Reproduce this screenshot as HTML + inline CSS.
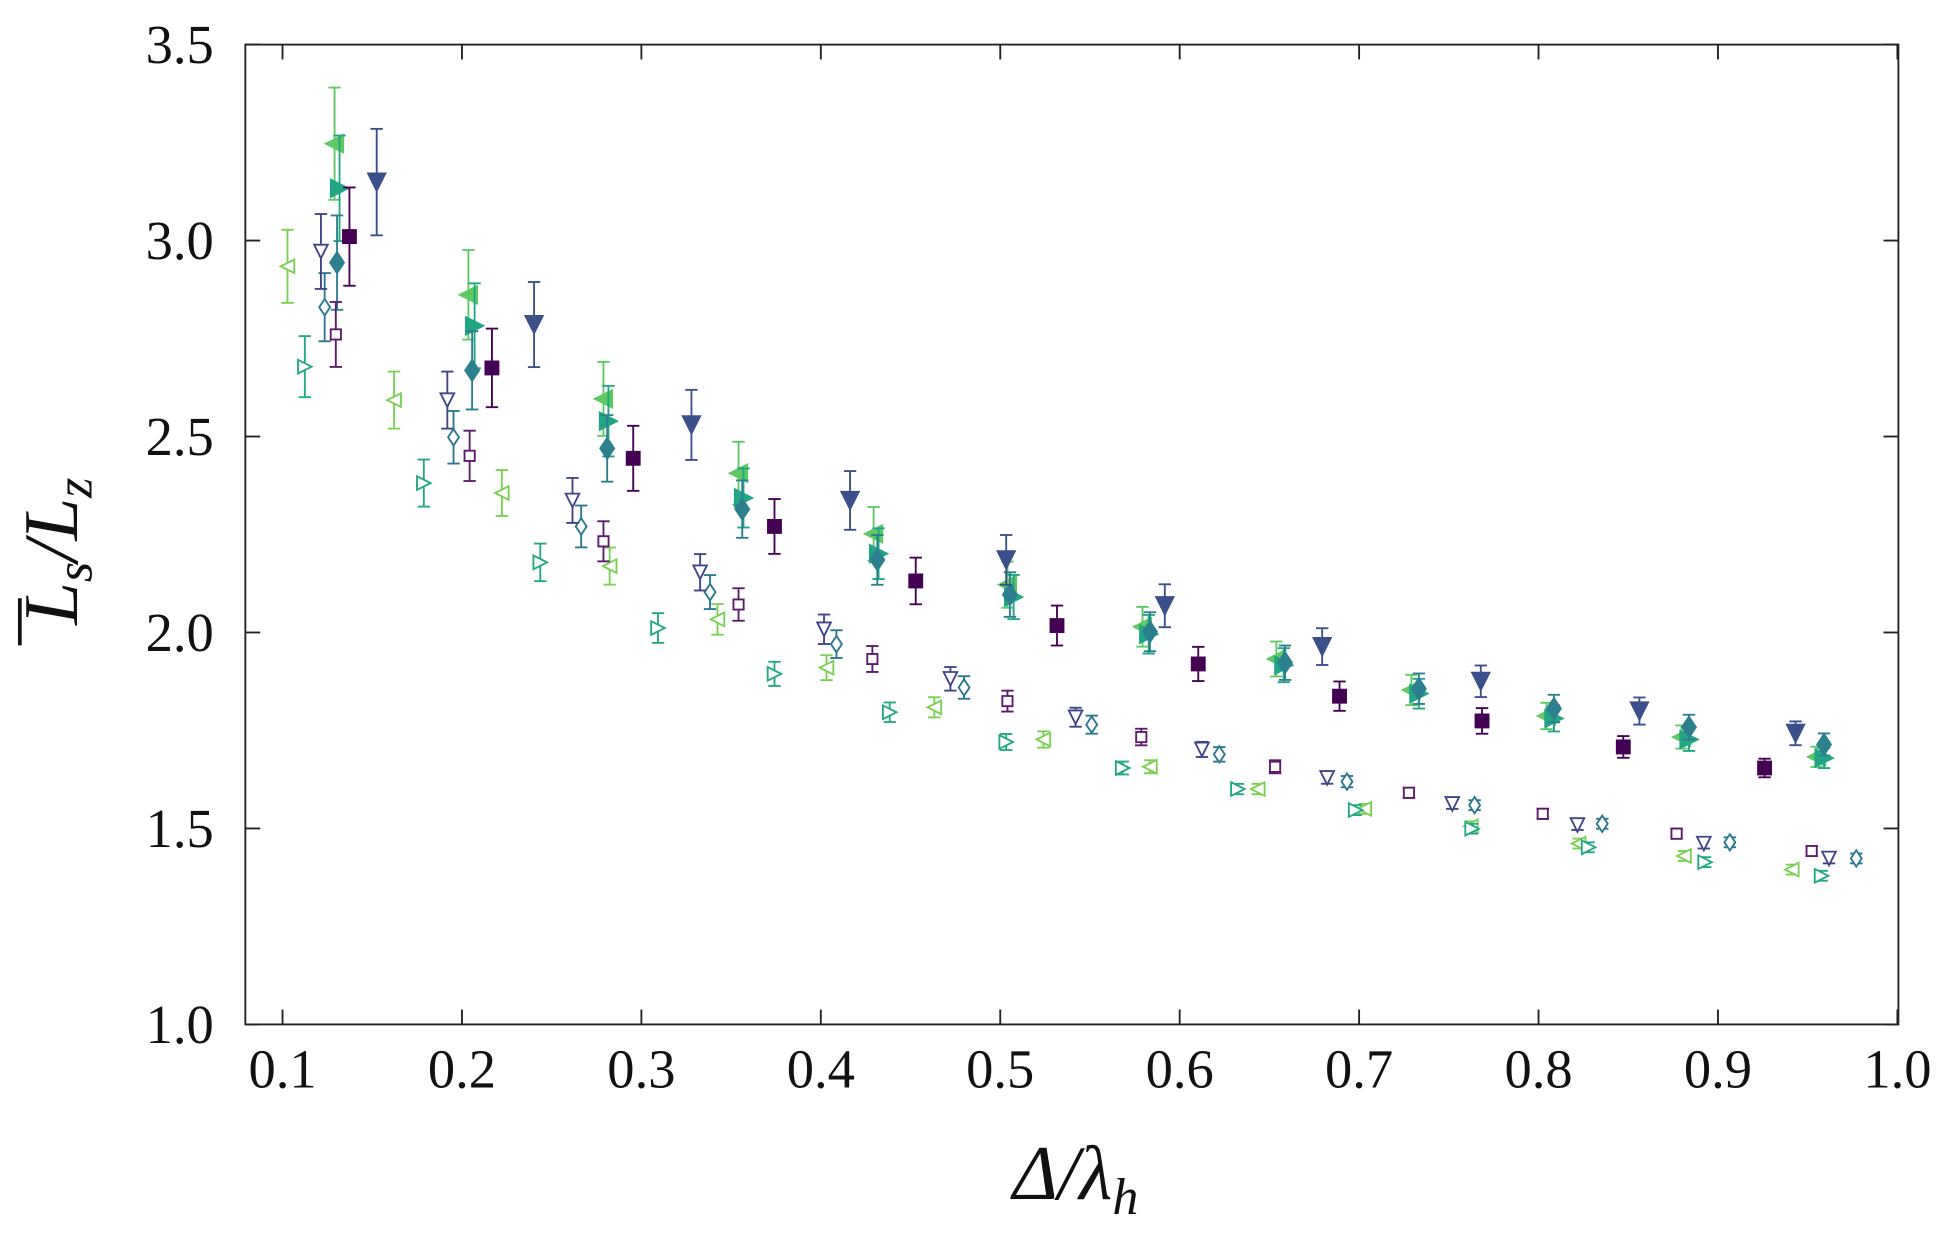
<!DOCTYPE html>
<html><head><meta charset="utf-8"><style>
html,body{margin:0;padding:0;background:#fff}
svg{display:block}
text{font-family:"Liberation Serif",serif;fill:#111}
</style></head><body>
<svg id="s" width="1943" height="1235" viewBox="0 0 1568 997" preserveAspectRatio="none" xmlns="http://www.w3.org/2000/svg">
<rect x="198" y="36" width="1334" height="791" fill="none" stroke="#222" stroke-width="1.5"/>
<g id="ticks" stroke="#222" stroke-width="1.5"></g>
<g id="lab" font-size="44" text-anchor="middle"></g>
<g id="data"></g>
<text x="868" y="968" font-size="62" font-style="italic" text-anchor="middle" style="font-family:'Liberation Serif',serif">Δ/λ<tspan font-size="42" dy="12">h</tspan></text>
<g transform="translate(62,445) rotate(-90)">
<text x="0" y="0" font-size="62" font-style="italic" text-anchor="middle">L<tspan font-size="42" dy="12">s</tspan><tspan dy="-12">/L</tspan><tspan font-size="42" dy="12">z</tspan></text>
<line x1="-76" y1="-46" x2="-38" y2="-46" stroke="#111" stroke-width="3"/>
</g>
</svg>
<script>
const NS="http://www.w3.org/2000/svg";
function el(p,t,a){const e=document.createElementNS(NS,t);for(const k in a)e.setAttribute(k,a[k]);p.appendChild(e);return e;}
const tk=document.getElementById('ticks'),lab=document.getElementById('lab');
for(let i=0;i<=9;i++){const x=228+i*144.8;el(tk,'line',{x1:x,y1:827,x2:x,y2:815});el(tk,'line',{x1:x,y1:36,x2:x,y2:48});
 const t=el(lab,'text',{x:x,y:878});t.textContent=(0.1+i*0.1).toFixed(1);}
for(let i=0;i<=5;i++){const y=827-i*158.2;el(tk,'line',{x1:198,y1:y,x2:210,y2:y});el(tk,'line',{x1:1532,y1:y,x2:1520,y2:y});
 const t=el(lab,'text',{x:145,y:y+15});t.textContent=(1+i*0.5).toFixed(1);}
const S=[
 {c:'#5ec962',m:'L',f:1,p:[[270,116],[378,238],[487,322],[596,382],[705,431],[813,472],[922,506],[1030,532],[1139,557],[1248,578],[1357,595],[1466,611]]},
 {c:'#21a585',m:'R',f:1,p:[[274,152],[383,263],[491,340],[600,402],[709,447],[818,482],[927,512],[1036,537],[1145,560],[1254,580],[1363,597],[1472,612]]},
 {c:'#2c7f8e',m:'D',f:1,p:[[272,212],[381,299],[490,362],[599,411],[708,452],[815,480],[928,510],[1037,535],[1145,556],[1254,572],[1363,587],[1472,601]]},
 {c:'#3b4f8b',m:'V',f:1,p:[[304,147],[431,262],[558,343],[686,404],[812,452],[940,489],[1067,522],[1195,550],[1323,574],[1449,592]]},
 {c:'#440154',m:'S',f:1,p:[[282,191],[397,297],[511,370],[625,425],[739,469],[853,505],[967,536],[1081,562],[1196,582],[1310,603],[1424,620]]},
 {c:'#7ad151',m:'L',f:0,p:[[232,215],[318,323],[405,398],[492,457],[579,500],[667,539],[754,571],[842,597],[928,619],[1015,637],[1101,653],[1187,667],[1274,681],[1359,691],[1446,702]]},
 {c:'#22a884',m:'R',f:0,p:[[246,296],[342,390],[436,454],[531,507],[625,544],[718,575],[812,599],[906,620],[999,637],[1094,654],[1188,669],[1282,684],[1376,696],[1470,707]]},
 {c:'#2a788e',m:'D',f:0,p:[[262,248],[366,353],[469,425],[573,478],[675,520],[778,555],[881,585],[984,609],[1087,631],[1190,650],[1293,665],[1396,680],[1498,693]]},
 {c:'#414487',m:'V',f:0,p:[[259,203],[361,323],[462,404],[565,462],[665,508],[767,548],[868,579],[970,605],[1071,628],[1172,649],[1273,666],[1375,681],[1476,693]]},
 {c:'#5c1a6b',m:'S',f:0,p:[[271,270],[379,368],[487,437],[596,488],[704,532],[813,566],[921,595],[1029,619],[1137,640],[1245,657],[1353,673],[1462,687]]}
];
const g=document.getElementById('data');
for(const s of S){for(const [x,y] of s.p){
 const e=s.f?(6+0.075*Math.max(0,640-y)):(4+0.06*Math.max(0,640-y));
 el(g,'line',{x1:x,y1:y-e,x2:x,y2:y+e,stroke:s.c,'stroke-width':1.5});
 el(g,'line',{x1:x-5,y1:y-e,x2:x+5,y2:y-e,stroke:s.c,'stroke-width':1.5});
 el(g,'line',{x1:x-5,y1:y+e,x2:x+5,y2:y+e,stroke:s.c,'stroke-width':1.5});
 const r=s.f?7:5.5;let pts;
 if(s.m=='L')pts=[[x-r,y],[x+r,y-r],[x+r,y+r]];
 else if(s.m=='R')pts=[[x+r,y],[x-r,y-r],[x-r,y+r]];
 else if(s.m=='V')pts=[[x-r,y-r],[x+r,y-r],[x,y+r]];
 else if(s.m=='D')pts=[[x,y-r*1.2],[x+r*0.8,y],[x,y+r*1.2],[x-r*0.8,y]];
 else pts=[[x-r*0.75,y-r*0.75],[x+r*0.75,y-r*0.75],[x+r*0.75,y+r*0.75],[x-r*0.75,y+r*0.75]];
 el(g,'polygon',{points:pts.map(q=>q.join(',')).join(' '),fill:s.f?s.c:'#fff',stroke:s.c,'stroke-width':1.5});
}}
</script>
</body></html>
